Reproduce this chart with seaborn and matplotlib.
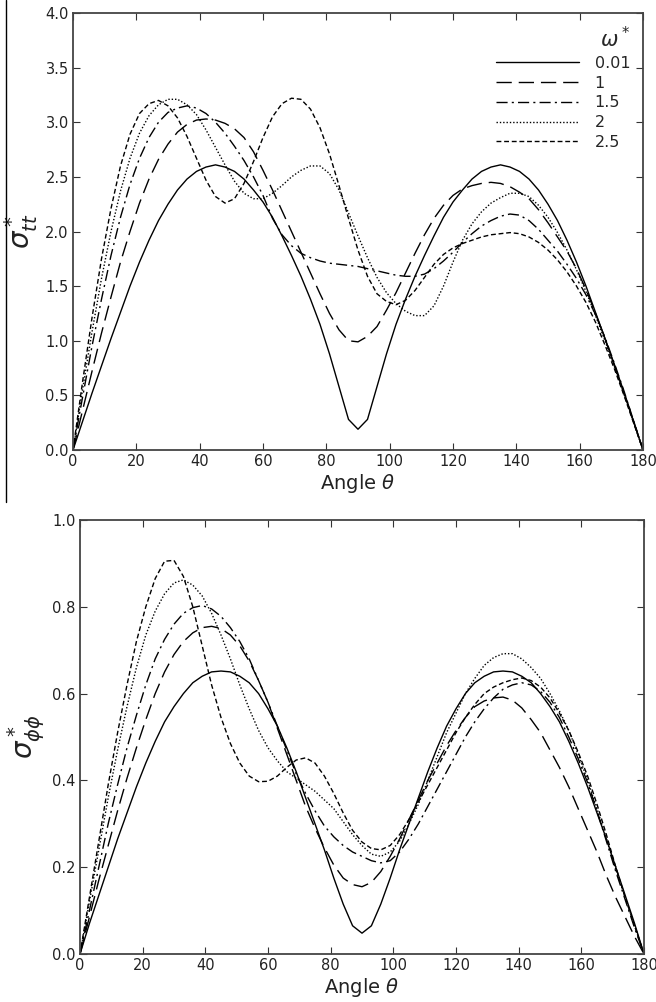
import matplotlib
matplotlib.use("Agg")
import matplotlib.pyplot as plt
from matplotlib.lines import Line2D
import pandas as pd
import seaborn as sns

# ---------------- data ----------------
theta = list(range(0, 181, 3))
omega_labels = ["0.01", "1", "1.5", "2", "2.5"]

# sigma_tt* (top panel)
stt_001 = [0, 0.26, 0.52, 0.77, 1.02, 1.26, 1.50, 1.72, 1.92, 2.10, 2.25, 2.38, 2.48, 2.55, 2.59, 2.61,
           2.59, 2.55, 2.48, 2.38, 2.27, 2.13, 1.96, 1.78, 1.59, 1.38, 1.15, 0.88, 0.58, 0.28, 0.19,
           0.28, 0.58, 0.88, 1.15, 1.38, 1.59, 1.78, 1.96, 2.13, 2.27, 2.38, 2.48, 2.55, 2.59, 2.61,
           2.59, 2.55, 2.48, 2.38, 2.25, 2.10, 1.92, 1.72, 1.50, 1.26, 1.02, 0.77, 0.52, 0.26, 0]
stt_1 = [0, 0.36, 0.72, 1.07, 1.40, 1.72, 2.00, 2.26, 2.48, 2.66, 2.80, 2.91, 2.98, 3.02, 3.03, 3.02,
         2.99, 2.94, 2.86, 2.73, 2.56, 2.38, 2.19, 2.00, 1.81, 1.62, 1.43, 1.25, 1.10, 1.00, 0.99,
         1.04, 1.13, 1.28, 1.44, 1.62, 1.80, 1.97, 2.12, 2.24, 2.33, 2.39, 2.42, 2.44, 2.45, 2.44,
         2.41, 2.36, 2.30, 2.20, 2.08, 1.95, 1.82, 1.66, 1.47, 1.25, 1.02, 0.78, 0.53, 0.27, 0]
stt_15 = [0, 0.48, 0.95, 1.38, 1.78, 2.13, 2.43, 2.67, 2.86, 3.00, 3.09, 3.13, 3.15, 3.13, 3.08, 3.00,
          2.90, 2.78, 2.65, 2.50, 2.33, 2.12, 1.97, 1.87, 1.80, 1.76, 1.73, 1.71, 1.70, 1.69, 1.68,
          1.66, 1.64, 1.62, 1.60, 1.59, 1.59, 1.61, 1.66, 1.73, 1.81, 1.90, 1.98, 2.05, 2.10, 2.14,
          2.16, 2.15, 2.10, 2.02, 1.92, 1.82, 1.70, 1.57, 1.42, 1.24, 1.03, 0.79, 0.54, 0.27, 0]
stt_2 = [0, 0.55, 1.08, 1.57, 2.00, 2.37, 2.67, 2.90, 3.06, 3.16, 3.21, 3.21, 3.16, 3.07, 2.93, 2.77,
         2.61, 2.46, 2.35, 2.30, 2.30, 2.35, 2.42, 2.50, 2.56, 2.60, 2.60, 2.53, 2.38, 2.17, 1.96,
         1.76, 1.58, 1.44, 1.34, 1.27, 1.23, 1.23, 1.32, 1.50, 1.72, 1.92, 2.07, 2.18, 2.26, 2.31,
         2.35, 2.35, 2.32, 2.24, 2.13, 1.99, 1.83, 1.65, 1.45, 1.23, 1.00, 0.76, 0.51, 0.26, 0]
stt_25 = [0, 0.62, 1.21, 1.75, 2.21, 2.60, 2.89, 3.08, 3.17, 3.20, 3.15, 3.04, 2.87, 2.67, 2.47, 2.32,
          2.26, 2.30, 2.44, 2.64, 2.86, 3.05, 3.17, 3.22, 3.21, 3.12, 2.95, 2.71, 2.42, 2.12, 1.83,
          1.59, 1.43, 1.36, 1.33, 1.37, 1.46, 1.58, 1.70, 1.79, 1.85, 1.89, 1.92, 1.95, 1.97, 1.98,
          1.99, 1.98, 1.95, 1.90, 1.83, 1.74, 1.63, 1.50, 1.35, 1.17, 0.96, 0.74, 0.50, 0.25, 0]

# sigma_phiphi* (bottom panel)
spp_001 = [0, 0.07, 0.135, 0.20, 0.265, 0.325, 0.385, 0.44, 0.49, 0.535, 0.57, 0.60, 0.625, 0.64, 0.65, 0.652,
           0.65, 0.64, 0.625, 0.60, 0.565, 0.525, 0.475, 0.42, 0.36, 0.30, 0.24, 0.175, 0.115, 0.065, 0.048,
           0.065, 0.115, 0.175, 0.24, 0.30, 0.36, 0.42, 0.475, 0.525, 0.565, 0.60, 0.625, 0.64, 0.65, 0.652,
           0.65, 0.64, 0.625, 0.60, 0.57, 0.535, 0.49, 0.44, 0.385, 0.325, 0.265, 0.20, 0.135, 0.07, 0]
spp_1 = [0, 0.085, 0.17, 0.25, 0.33, 0.405, 0.475, 0.54, 0.60, 0.65, 0.69, 0.72, 0.74, 0.752, 0.755, 0.75,
         0.735, 0.71, 0.675, 0.63, 0.58, 0.52, 0.46, 0.40, 0.34, 0.29, 0.245, 0.205, 0.175, 0.16, 0.155,
         0.165, 0.19, 0.225, 0.265, 0.31, 0.355, 0.40, 0.44, 0.48, 0.515, 0.545, 0.57, 0.583, 0.59, 0.592,
         0.585, 0.567, 0.54, 0.51, 0.47, 0.43, 0.385, 0.335, 0.285, 0.235, 0.18, 0.13, 0.085, 0.04, 0]
spp_15 = [0, 0.10, 0.20, 0.30, 0.39, 0.475, 0.55, 0.62, 0.68, 0.725, 0.76, 0.785, 0.798, 0.803, 0.795, 0.778,
          0.752, 0.72, 0.68, 0.63, 0.58, 0.525, 0.47, 0.415, 0.37, 0.33, 0.295, 0.27, 0.25, 0.235, 0.225,
          0.215, 0.21, 0.215, 0.235, 0.265, 0.30, 0.34, 0.38, 0.42, 0.46, 0.50, 0.535, 0.565, 0.59, 0.61,
          0.62, 0.625, 0.62, 0.605, 0.58, 0.545, 0.50, 0.45, 0.395, 0.33, 0.26, 0.19, 0.125, 0.06, 0]
spp_2 = [0, 0.12, 0.24, 0.36, 0.47, 0.57, 0.66, 0.735, 0.79, 0.83, 0.855, 0.862, 0.85, 0.825, 0.785, 0.735,
         0.68, 0.62, 0.565, 0.515, 0.475, 0.445, 0.42, 0.405, 0.39, 0.375, 0.355, 0.335, 0.305, 0.275, 0.25,
         0.23, 0.225, 0.235, 0.26, 0.30, 0.345, 0.40, 0.455, 0.51, 0.555, 0.60, 0.635, 0.665, 0.683, 0.692,
         0.692, 0.68, 0.66, 0.635, 0.60, 0.56, 0.515, 0.46, 0.40, 0.335, 0.265, 0.195, 0.13, 0.065, 0]
spp_25 = [0, 0.13, 0.26, 0.39, 0.51, 0.62, 0.72, 0.80, 0.865, 0.905, 0.907, 0.87, 0.80, 0.71, 0.62, 0.545,
          0.485, 0.44, 0.41, 0.397, 0.398, 0.41, 0.43, 0.447, 0.452, 0.44, 0.41, 0.37, 0.325, 0.285, 0.258,
          0.243, 0.24, 0.25, 0.275, 0.31, 0.35, 0.39, 0.43, 0.47, 0.51, 0.545, 0.575, 0.60, 0.615, 0.625,
          0.632, 0.636, 0.63, 0.615, 0.59, 0.555, 0.515, 0.465, 0.41, 0.345, 0.275, 0.20, 0.13, 0.065, 0]

top_series = [stt_001, stt_1, stt_15, stt_2, stt_25]
bot_series = [spp_001, spp_1, spp_15, spp_2, spp_25]

x_ticks = list(range(0, 181, 20))
top_yticks = [0.0, 0.5, 1.0, 1.5, 2.0, 2.5, 3.0, 3.5, 4.0]
bot_yticks = [0.0, 0.2, 0.4, 0.6, 0.8, 1.0]


def long_df(series):
    frames = []
    for lab, vals in zip(omega_labels, series):
        frames.append(pd.DataFrame({"theta": theta, "value": vals, "omega": lab}))
    return pd.concat(frames, ignore_index=True)


# ---------------- style ----------------
sns.set_theme(style="white", rc={
    "xtick.direction": "in", "ytick.direction": "in",
    "xtick.top": True, "ytick.right": True,
    "xtick.bottom": True, "ytick.left": True,
    "xtick.major.size": 5, "ytick.major.size": 5,
    "xtick.major.width": 0.8, "ytick.major.width": 0.8,
    "xtick.color": "#333333", "ytick.color": "#333333",
    "axes.edgecolor": "#444444", "axes.linewidth": 1.3,
})
plt.rcParams["font.family"] = ["DejaVu Sans"]
plt.rcParams["mathtext.fontset"] = "dejavusans"

palette = {lab: "black" for lab in omega_labels}
dashes = {"0.01": "", "1": (11, 5), "1.5": (8, 3, 1.5, 3), "2": (1, 1.4), "2.5": (3.5, 2)}

fig = plt.figure(figsize=(6.56, 10.02), dpi=100)
ax1 = fig.add_axes([73 / 656, 1 - 450 / 1002, 570 / 656, 437 / 1002])
ax2 = fig.add_axes([80 / 656, 1 - 954 / 1002, 564 / 656, 434 / 1002])

for ax, series, yt, ylab in [
    (ax1, top_series, top_yticks, r"$\sigma^*_{tt}$"),
    (ax2, bot_series, bot_yticks, r"$\sigma^*_{\phi\phi}$"),
]:
    df = long_df(series)
    sns.lineplot(data=df, x="theta", y="value", hue="omega", style="omega",
                 hue_order=omega_labels, style_order=omega_labels,
                 palette=palette, dashes=dashes, estimator=None, sort=False,
                 linewidth=1.0, legend=False, ax=ax)
    ax.set_xlim(0, 180)
    ax.set_ylim(yt[0], yt[-1])
    ax.set_xticks(x_ticks)
    ax.set_yticks(yt)
    ax.set_xticklabels([str(t) for t in x_ticks], fontsize=10.5)
    ax.set_yticklabels([f"{t:.1f}" for t in yt], fontsize=10.5)
    ax.tick_params(axis="both", pad=3, labelcolor="#222222")
    ax.set_xlabel(r"Angle $\theta$", fontsize=14, labelpad=2, color="#222222")
    ax.set_ylabel(ylab, fontsize=20, labelpad=4, color="#222222")

handles = []
for l in omega_labels:
    if dashes[l]:
        handles.append(Line2D([0], [0], color="black", lw=1.0, dashes=dashes[l]))
    else:
        handles.append(Line2D([0], [0], color="black", lw=1.0, linestyle="-"))

leg = ax1.legend(handles, omega_labels, title=r"$\omega^*$", loc="upper right",
                 frameon=False, fontsize=11.5, title_fontsize=15,
                 handlelength=5.2, handletextpad=1.0, labelspacing=0.3,
                 borderaxespad=0.4, bbox_to_anchor=(1.0, 1.0))
leg._legend_box.align = "right"

# scan artifact: thin vertical line at the left edge of the upper half
fig.add_artist(Line2D([6 / 656, 6 / 656], [1.0, 1 - 502 / 1002],
                      transform=fig.transFigure, color="black", lw=1.0))

fig.savefig("out.png", dpi=100)
